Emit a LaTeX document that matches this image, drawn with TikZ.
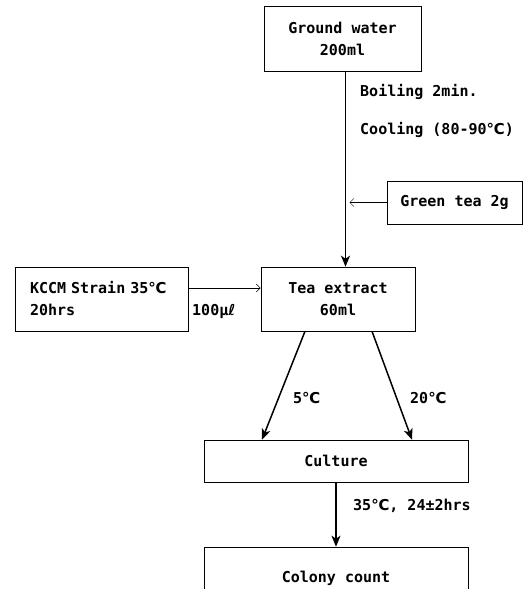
\documentclass[tikz,border=0pt]{standalone}
\usepackage{fontspec}
\setmainfont{DejaVu Sans Mono}
\newfontfamily\symfam{DejaVu Sans}
\newcommand{\degc}{{\symfam ℃}}
\newcommand{\litre}{{\symfam ℓ}}
\usepackage{tikz}
\usetikzlibrary{positioning,arrows.meta,calc}
\tikzset{
  box/.style    ={draw, line width=0.6pt, inner sep=0pt, align=center,
                  font=\fontsize{15}{22}\selectfont\bfseries},
  lab/.style    ={inner sep=0pt, anchor=west,
                  font=\fontsize{15}{22}\selectfont\bfseries},
  % main flow: heavy line, filled head
  flow/.style   ={line width=1.5pt, -{Stealth[length=11pt,width=9pt,inset=3pt]}},
  % side inputs: hairline, open head
  feed/.style   ={line width=0.5pt, -{Straight Barb[length=4pt,width=8pt]}},
}
\begin{document}
\begin{tikzpicture}[x=1pt,y=-1pt]
\useasboundingbox (0,0) rectangle (528,589);
% boxes
\node[box, minimum width=157pt, minimum height=65pt] (water)  at (342.5,38.5) {Ground water\\200ml};
\node[box, minimum width=135pt, minimum height=43pt] (gtea)   at (454.5,202.5) {Green tea 2g};
\node[box, minimum width=154pt, minimum height=64pt] (tea)    at (338,299) {Tea extract\\60ml};
\node[box, minimum width=173pt, minimum height=64pt, align=left,
      text width=143pt] (kccm) at (101.5,299) {KCCM Strain 35\degc\\20hrs};
\node[box, minimum width=264pt, minimum height=42pt] (cult)   at (336,461) {Culture};
\node[box, minimum width=264pt, minimum height=62pt] (colony) at (336,578) {Colony count};
% connectors
\coordinate (trunk) at ([xshift=3pt]water.south);
\draw[flow] (trunk) -- (trunk |- tea.north);
\draw[feed, shorten >=4pt] (gtea.west) -- (gtea.west -| trunk);
\draw[feed] ([yshift=11pt]kccm.east) -- ([yshift=11pt]tea.west);
\draw[flow] ([xshift=-33pt]tea.south) -- ([xshift=-74pt]cult.north);
\draw[flow] ([xshift=34pt]tea.south) -- ([xshift=76pt]cult.north);
\draw[flow] (cult.south) -- (colony.north);
% labels
\node[lab] (boil)  at (360,92)  {Boiling 2min.};
\node[lab] (cool)  at (360,130) {Cooling (80-90\degc)};
\node[lab] (vol)   at (192,311) {100μ\litre};
\node[lab] (low)   at (293,398) {5\degc};
\node[lab] (high)  at (410,398) {20\degc};
\node[lab] (incub) at (353,506) {35\degc, 24±2hrs};
\end{tikzpicture}
\end{document}
